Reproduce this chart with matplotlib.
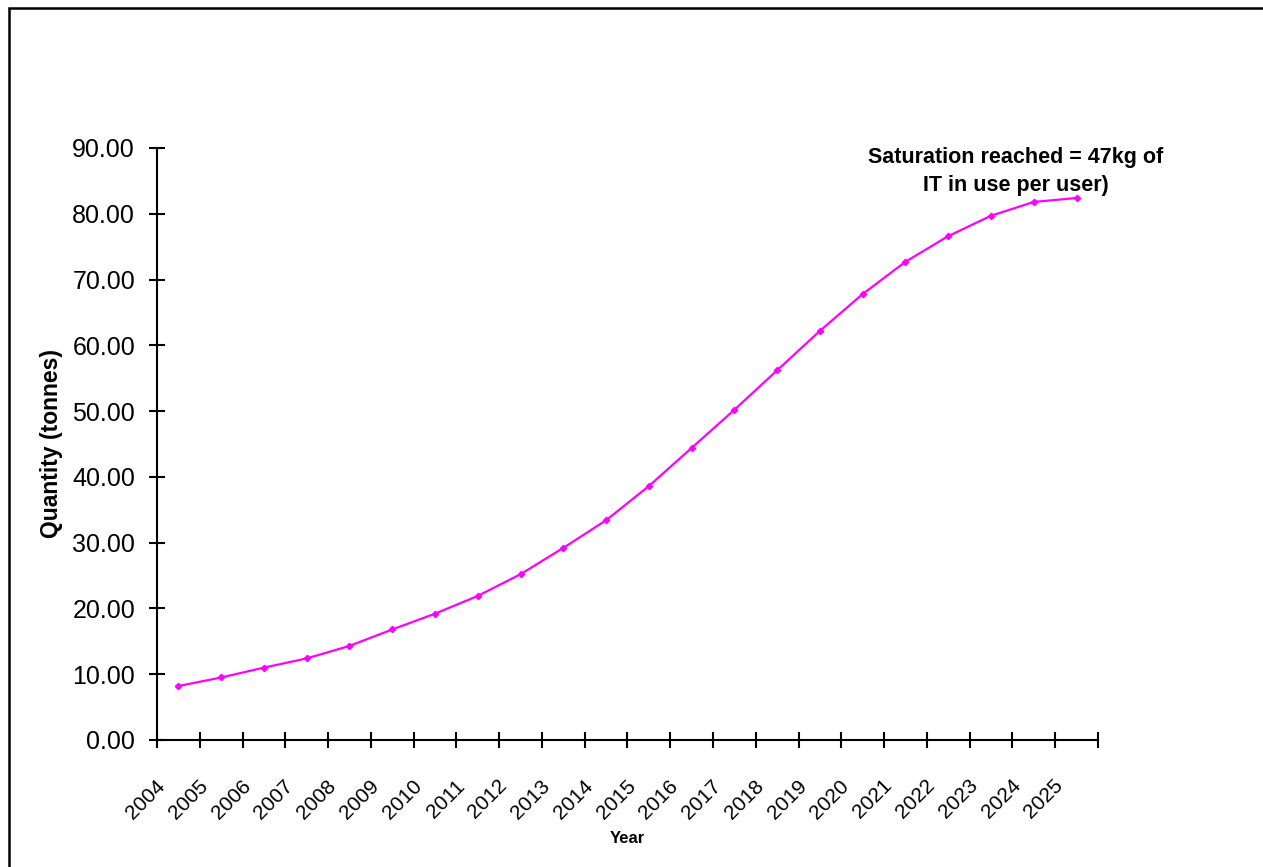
import matplotlib.pyplot as plt
import matplotlib.patches as patches
import matplotlib.transforms as mtransforms
from matplotlib.ticker import FixedLocator, FormatStrFormatter
import numpy as np

plt.rcParams['font.family'] = ['Liberation Sans', 'DejaVu Sans']

years = ['2004', '2005', '2006', '2007', '2008', '2009', '2010', '2011',
         '2012', '2013', '2014', '2015', '2016', '2017', '2018', '2019',
         '2020', '2021', '2022', '2023', '2024', '2025']
quantity = [8.2, 9.5, 11.0, 12.4, 14.3, 16.8, 19.2, 21.9, 25.2, 29.2, 33.4,
            38.6, 44.4, 50.2, 56.2, 62.2, 67.8, 72.7, 76.6, 79.7, 81.8, 82.4]
note = 'Saturation reached = 47kg of\nIT in use per user)'

fig = plt.figure(figsize=(12.63, 8.67), dpi=100)
ax = fig.add_axes([0.1243, 0.1465, 0.745, 0.6828])

# category positions sit between the boundary ticks
pos = np.arange(len(years)) + 0.5
ax.plot(pos, quantity, color='#FF00FF', lw=1.6, marker='D', ms=3.2)

ax.set_xlim(0, len(years))
ax.set_ylim(0, 90)

ax.xaxis.set_major_locator(FixedLocator(np.arange(len(years) + 1)))
ax.xaxis.set_minor_locator(FixedLocator(pos))
ax.set_xticklabels([], minor=False)
ax.set_xticklabels(years, minor=True, rotation=45, ha='right',
                   rotation_mode='anchor', fontsize=15)
ax.tick_params(axis='x', which='major', direction='inout', length=11.5,
               width=1.5)
ax.tick_params(axis='x', which='minor', length=0, pad=26)

# nudge the slanted year labels a little to the left
shift = mtransforms.ScaledTranslation(-23 / 100, 0, fig.dpi_scale_trans)
for lab in ax.xaxis.get_minorticklabels():
    lab.set_transform(lab.get_transform() + shift)

ax.set_yticks(np.arange(0, 91, 10))
ax.yaxis.set_major_formatter(FormatStrFormatter('%.2f'))
ax.tick_params(axis='y', direction='inout', length=11.5, width=1.5,
               labelsize=18, pad=10)

for side in ['top', 'right']:
    ax.spines[side].set_visible(False)
for side in ['left', 'bottom']:
    ax.spines[side].set_linewidth(1.5)

ax.set_ylabel('Quantity (tonnes)', fontsize=16.5, fontweight='bold', labelpad=7)
ax.set_xlabel('Year', fontsize=12, fontweight='bold', labelpad=6)

ax.text(20.08, 86.4, note, ha='center', va='center', multialignment='center',
        fontsize=15.5, fontweight='bold', linespacing=1.45)

# outer frame
fig.patches.append(patches.Rectangle((8.5 / 1263, -0.1), 1.2,
                                     1.1 - 8.5 / 867,
                                     transform=fig.transFigure, fill=False,
                                     edgecolor='black', lw=1.8))

fig.savefig('out.png', dpi=100)
